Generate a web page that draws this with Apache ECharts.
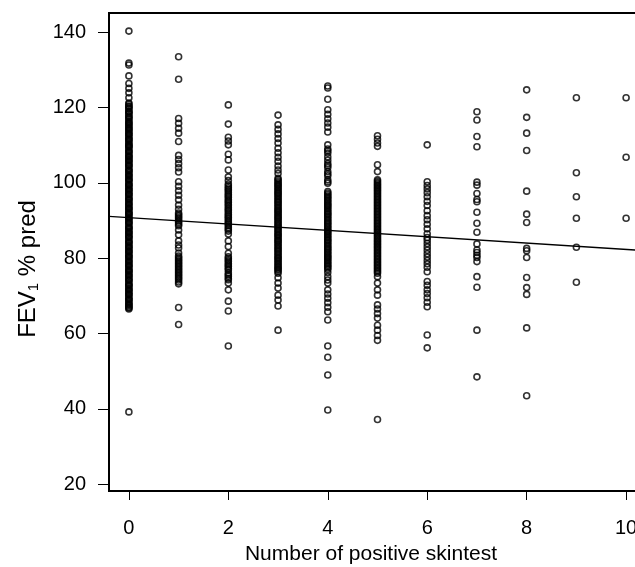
<!DOCTYPE html>
<html>
<head>
<meta charset="utf-8">
<script src="https://cdn.jsdelivr.net/npm/echarts@6/dist/echarts.min.js"></script>
<style>
html,body{margin:0;padding:0;background:#fff;}
#chart{width:635px;height:567px;}
</style>
</head>
<body>
<div id="chart"></div>
<script>
// x categories: number of positive skin tests
var counts = [0,1,2,3,4,5,6,7,8,9,10];
// FEV1 % pred values read per column (dense stacks estimated)
var col0 = [140.3, 131.8, 131.3, 128.4, 126.4, 125.1, 123.9, 122.6,
  121.2, 120.4, 119.9, 119.0, 118.6, 117.8, 117.3, 116.4, 115.8, 115.2, 114.5, 113.9, 113.1, 112.6, 111.8, 111.3,
  110.5, 109.9, 109.5, 108.6, 108.2, 107.3, 106.9, 106.1, 105.6, 104.8, 104.4, 103.5, 103.1, 102.3, 101.8, 101.0,
  100.6, 99.7, 99.3, 98.5, 98.0, 97.2, 96.8, 95.9, 95.5, 94.7, 94.2, 93.4, 93.0, 92.1, 91.7, 90.9, 90.4, 89.6,
  89.2, 88.3, 87.9, 87.1, 86.6, 85.8, 85.4, 84.5, 84.1, 83.3, 82.8, 82.0, 81.6, 80.7, 80.3, 79.5, 79.0, 78.2,
  77.8, 76.9, 76.5, 75.7, 75.2, 74.4, 74.0, 73.1, 72.7, 71.9, 71.4, 70.6, 70.2, 69.3, 68.9, 68.1, 67.6, 67.0, 66.5,
  120.9, 120.2, 119.6, 118.9, 118.3, 117.5, 116.9, 116.1, 115.5, 114.8, 114.2, 113.5, 112.9, 112.2, 111.6, 110.9,
  110.2, 109.7, 109.1, 108.4, 107.8, 107.1, 106.5, 105.9, 105.2, 104.6, 103.9, 103.3, 102.7, 102.0, 101.4, 100.8,
  100.2, 99.5, 98.9, 98.2, 97.6, 97.0, 96.3, 95.7, 95.1, 94.4, 93.8, 93.2, 92.5, 91.9, 91.3, 90.6, 90.0, 89.4,
  88.7, 88.1, 87.5, 86.8, 86.2, 85.6, 84.9, 84.3, 83.7, 83.0, 82.4, 81.8, 81.1, 80.5, 79.9, 79.2, 78.6, 78.0,
  77.3, 76.7, 76.1, 75.4, 74.8, 74.2, 73.5, 72.9, 72.3, 71.6, 71.0, 70.4, 69.7, 69.1, 68.5, 67.8, 67.3, 66.8,
  39.2];
var col1 = [133.5, 127.5, 117.1, 115.8, 114.5, 113.2, 111.0, 107.3, 106.2, 105.1, 104.0, 102.9, 100.3, 99.1,
  97.9, 96.7, 95.5, 94.1, 93.0, 92.0, 91.2, 90.4, 89.5, 88.6, 87.5, 86.2, 84.6, 83.5, 82.7, 81.4, 80.6, 79.8,
  79.0, 78.2, 77.4, 76.6, 75.8, 75.0, 74.2, 73.2, 66.9, 62.4,
  80.2, 79.4, 78.6, 77.8, 77.0, 76.2, 75.4, 74.6, 73.7, 91.6, 90.8, 89.9, 89.0];
var col2 = [120.7, 115.6, 112.1, 111.1, 110.1, 107.6, 106.1, 103.4, 101.6, 100.6, 99.7, 98.7, 97.9, 96.9,
  96.1, 95.2, 94.3, 93.4, 92.6, 91.6, 90.8, 89.9, 89.0, 88.1, 87.2, 86.4, 84.6, 83.1, 81.3, 80.4, 79.5, 78.6,
  77.8, 76.9, 76.1, 75.2, 74.3, 73.4, 71.6, 68.6, 66.0, 56.7,
  99.2, 98.3, 97.4, 96.5, 95.6, 94.8, 93.9, 93.0, 92.1, 91.2, 90.4, 89.5, 88.6, 87.7, 80.0, 79.1, 78.2, 77.3,
  75.6, 74.7];
var col3 = [118.0, 115.4, 114.2, 113.0, 111.8, 110.6, 109.2, 108.0, 106.8, 105.7, 104.5, 103.4, 102.5, 101.2,
  100.5, 99.7, 99.0, 98.2, 97.4, 96.7, 95.9, 95.1, 94.4, 93.6, 92.8, 92.1, 91.3, 90.6, 89.8, 89.0, 88.3, 87.5,
  86.7, 86.0, 85.2, 84.5, 83.7, 82.9, 82.2, 81.4, 80.6, 79.9, 79.1, 78.3, 77.6, 76.9, 76.0, 74.8, 73.4, 72.1,
  70.2, 68.9, 67.3, 60.9,
  100.9, 100.1, 99.4, 98.6, 97.8, 97.1, 96.3, 95.5, 94.8, 94.0, 93.2, 92.5, 91.7, 90.9, 90.2, 89.4, 88.6, 87.9,
  87.1, 86.3, 85.6, 84.8, 84.1, 83.3, 82.5, 81.8, 81.0, 80.2, 79.5, 78.7, 77.9, 77.2, 76.5];
var col4 = [125.7, 125.2, 122.2, 119.4, 118.2, 117.0, 115.9, 114.8, 113.5, 110.1, 109.0, 107.9, 106.9, 106.0,
  105.1, 104.1, 103.0, 101.9, 100.8, 99.9, 97.7, 96.9, 96.2, 95.4, 94.6, 93.9, 93.1, 92.3, 91.6, 90.8, 90.0,
  89.3, 88.5, 87.7, 87.0, 86.2, 85.4, 84.7, 83.9, 83.1, 82.4, 81.6, 80.8, 80.1, 79.3, 78.5, 77.8, 77.0, 76.2,
  75.1, 74.2, 73.4, 71.6, 70.5, 69.4, 68.2, 67.0, 65.8, 63.6, 56.7, 53.7, 49.0, 39.7,
  97.3, 96.5, 95.8, 95.0, 94.2, 93.5, 92.7, 91.9, 91.2, 90.4, 89.6, 88.9, 88.1, 87.3, 86.6, 85.8, 85.0, 84.3,
  83.5, 82.7, 82.0, 81.2, 80.4, 79.7, 78.9, 78.1, 77.4, 108.5, 104.6, 102.4, 100.3];
var col5 = [112.5, 111.6, 110.6, 109.7, 104.8, 103.0, 100.8, 100.0, 99.2, 98.4, 97.6, 96.8, 96.0, 95.2, 94.4,
  93.6, 92.8, 92.0, 91.2, 90.4, 89.6, 88.8, 88.0, 87.2, 86.4, 85.6, 84.8, 84.0, 83.2, 82.4, 81.6, 80.8, 80.0,
  79.2, 78.4, 77.6, 76.8, 76.0, 75.1, 73.4, 71.6, 70.2, 67.6, 66.5, 65.3, 64.1, 62.2, 60.9, 59.5, 58.2, 37.2,
  100.4, 99.6, 98.8, 98.0, 97.2, 96.4, 95.6, 94.8, 94.0, 93.2, 92.4, 91.6, 90.8, 90.0, 89.2, 88.4, 87.6, 86.8,
  86.0, 85.2, 84.4, 83.6, 82.8, 82.0, 81.2, 80.4, 79.6, 78.8, 78.0, 77.2, 76.4];
var col6 = [110.1, 100.3, 99.3, 98.4, 97.4, 96.3, 95.1, 94.0, 92.6, 91.3, 90.2, 89.0, 87.8, 86.5, 85.5, 84.8,
  83.9, 83.0, 82.1, 81.2, 80.3, 79.4, 78.5, 77.6, 76.4, 73.8, 72.8, 71.6, 70.6, 69.5, 68.3, 67.1, 59.6, 56.2];
var col7 = [118.9, 116.7, 112.3, 109.6, 100.2, 99.4, 97.2, 95.6, 95.0, 92.2, 89.3, 86.9, 83.8, 82.2, 81.5,
  80.8, 80.2, 79.1, 75.1, 72.3, 60.9, 48.5];
var col8 = [124.7, 117.4, 113.2, 108.6, 97.8, 91.7, 89.5, 82.6, 82.0, 80.2, 74.9, 72.2, 70.4, 61.5, 43.5];
var col9 = [122.6, 102.7, 96.3, 90.6, 82.9, 73.6];
var col10 = [122.6, 106.8, 90.6];
var columns = [col0, col1, col2, col3, col4, col5, col6, col7, col8, col9, col10];

// fitted regression line end points
var lineX = [-0.4, 10.4];
var lineY = [91.1, 82.0];

// tick labels
var xTicks = [0, 2, 4, 6, 8, 10];
var yTicks = [20, 40, 60, 80, 100, 120, 140];

var points = [];
counts.forEach(function (c, i) {
  columns[i].forEach(function (v) { points.push([c, v]); });
});
var linePts = lineX.map(function (x, i) { return [x, lineY[i]]; });

var FONT = '"Liberation Sans", Arial, sans-serif';
var chart = echarts.init(document.getElementById('chart'), null, {renderer: 'canvas'});
chart.setOption({
  animation: false,
  backgroundColor: '#fff',
  grid: {left: 109, top: 13, width: 537, height: 478, containLabel: false, outerBoundsMode: 'none',
    show: true, borderColor: '#000', borderWidth: 2, backgroundColor: 'transparent'},
  xAxis: {
    type: 'value', min: -0.4, max: 10.4,
    splitLine: {show: false},
    axisLine: {show: true, onZero: false, lineStyle: {color: '#000', width: 2}},
    axisTick: {show: true, length: 9, inside: false, customValues: xTicks, lineStyle: {color: '#000', width: 1}},
    axisLabel: {customValues: xTicks, margin: 27, color: '#000', fontSize: 20, fontFamily: FONT, hideOverlap: false},
    name: 'Number of positive skintest',
    nameLocation: 'middle', nameGap: 53,
    nameTextStyle: {color: '#000', fontSize: 21, fontFamily: FONT, padding: [0, 13, 0, 0]}
  },
  yAxis: {
    type: 'value', min: 18.2, max: 145.1,
    splitLine: {show: false},
    axisLine: {show: true, onZero: false, lineStyle: {color: '#000', width: 2}},
    axisTick: {show: true, length: 11, inside: false, customValues: yTicks, lineStyle: {color: '#000', width: 1}},
    axisLabel: {customValues: yTicks, margin: 23, color: '#000', fontSize: 20, fontFamily: FONT},
    name: 'FEV{sub|1} % pred',
    nameLocation: 'middle', nameGap: 67, nameRotate: 90,
    nameTextStyle: {color: '#000', fontSize: 24, fontFamily: FONT, padding: [0, 34, 0, 0],
      rich: {sub: {fontSize: 15, fontFamily: FONT, color: '#000', verticalAlign: 'bottom', padding: [11, 0, 0, 0]}}}
  },
  series: [
    {
      type: 'scatter', data: points, symbol: 'circle', symbolSize: 6,
      itemStyle: {color: 'rgba(0,0,0,0)', borderColor: '#000', borderWidth: 1.6},
      emphasis: {disabled: true}, z: 3
    },
    {
      type: 'line', data: linePts, showSymbol: false, symbol: 'none',
      lineStyle: {color: '#000', width: 1.3}, clip: true, z: 4
    }
  ]
});
</script>
</body>
</html>
